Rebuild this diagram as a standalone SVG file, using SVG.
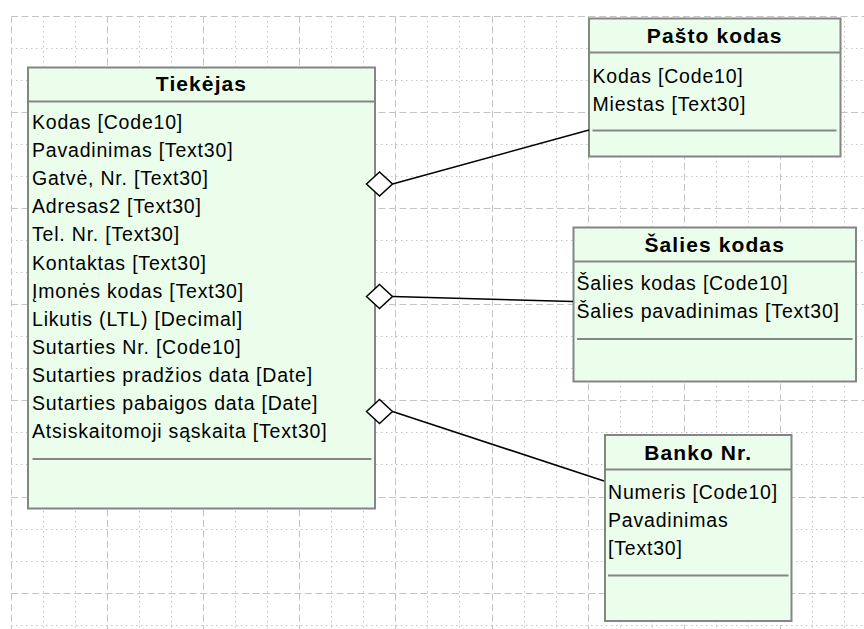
<svg xmlns="http://www.w3.org/2000/svg" width="864" height="629" viewBox="0 0 864 629">
<style>
.minor{stroke:#c4c4c4;stroke-width:1;fill:none;stroke-dasharray:1.5 3.5}
.major{stroke:#c4c4c4;stroke-width:1;fill:none;stroke-dasharray:7 3.5}
.box{fill:#ebfeeb;stroke:#858585;stroke-width:2}
.sep{stroke:#858585;stroke-width:2}
.hdr{font-family:"Liberation Sans",Arial,sans-serif;font-weight:bold;font-size:21px;letter-spacing:1.1px;text-anchor:middle;fill:#000}
.att{font-family:"Liberation Sans",Arial,sans-serif;font-size:19.5px;letter-spacing:0.8px;fill:#000}
.conn{stroke:#000;stroke-width:1.6;fill:none;marker-start:url(#dia)}
</style>
<defs>
<marker id="dia" markerUnits="userSpaceOnUse" markerWidth="30" markerHeight="28" refX="27" refY="14" orient="0" overflow="visible">
<polygon points="1,14 14,2 27,14 14,26" fill="#fff" stroke="#000" stroke-width="1.5"/>
</marker>
</defs>
<rect width="864" height="629" fill="#fff"/>
<g id="grid">
<path class="minor" d="M43.5,16V629M75.5,16V629M139.5,16V629M171.5,16V629M235.5,16V629M267.5,16V629M331.5,16V629M363.5,16V629M427.5,16V629M459.5,16V629M524.5,16V629M556.5,16V629M620.5,16V629M652.5,16V629M716.5,16V629M748.5,16V629M812.5,16V629M844.5,16V629M11,48.5H864M11,80.5H864M11,144.5H864M11,176.5H864M11,240.5H864M11,272.5H864M11,336.5H864M11,368.5H864M11,432.5H864M11,464.5H864M11,529.5H864M11,561.5H864M11,625.5H864"/>
<path class="major" d="M11.5,16V629M107.5,16V629M203.5,16V629M299.5,16V629M395.5,16V629M492.5,16V629M588.5,16V629M684.5,16V629M780.5,16V629M11,16.5H864M11,112.5H864M11,208.5H864M11,304.5H864M11,400.5H864M11,497.5H864M11,593.5H864"/>
</g>
<g id="tiekejas">
<rect class="box" x="28" y="67.5" width="347" height="441"/>
<line class="sep" x1="28" y1="101.5" x2="375" y2="101.5"/>
<text class="hdr" x="201.5" y="91">Tiekėjas</text>
<text class="att" x="32" y="129">Kodas [Code10]</text>
<text class="att" x="32" y="157.1">Pavadinimas [Text30]</text>
<text class="att" x="32" y="185.2">Gatvė, Nr. [Text30]</text>
<text class="att" x="32" y="213.3">Adresas2 [Text30]</text>
<text class="att" x="32" y="241.4">Tel. Nr. [Text30]</text>
<text class="att" x="32" y="269.5">Kontaktas [Text30]</text>
<text class="att" x="32" y="297.6">Įmonės kodas [Text30]</text>
<text class="att" x="32" y="325.7">Likutis (LTL) [Decimal]</text>
<text class="att" x="32" y="353.8">Sutarties Nr. [Code10]</text>
<text class="att" x="32" y="381.9">Sutarties pradžios data [Date]</text>
<text class="att" x="32" y="410">Sutarties pabaigos data [Date]</text>
<text class="att" x="32" y="438.1">Atsiskaitomoji sąskaita [Text30]</text>
<line class="sep" x1="32.5" y1="459" x2="371.5" y2="459"/>
</g>
<g id="pasto-kodas">
<rect class="box" x="589" y="18.5" width="251.5" height="138"/>
<line class="sep" x1="589" y1="52.5" x2="840.5" y2="52.5"/>
<text class="hdr" x="714.7" y="43">Pašto kodas</text>
<text class="att" x="592.5" y="82.5">Kodas [Code10]</text>
<text class="att" x="592.5" y="110.5">Miestas [Text30]</text>
<line class="sep" x1="592.5" y1="130.5" x2="836.5" y2="130.5"/>
</g>
<g id="salies-kodas">
<rect class="box" x="573.5" y="227.5" width="282.5" height="154"/>
<line class="sep" x1="573.5" y1="261.5" x2="856" y2="261.5"/>
<text class="hdr" x="714.7" y="252">Šalies kodas</text>
<text class="att" x="576.5" y="290">Šalies kodas [Code10]</text>
<text class="att" x="576.5" y="317.5">Šalies pavadinimas [Text30]</text>
<line class="sep" x1="577" y1="339" x2="852.5" y2="339"/>
</g>
<g id="banko-nr">
<rect class="box" x="605" y="435" width="186.5" height="186"/>
<line class="sep" x1="605" y1="469.5" x2="791.5" y2="469.5"/>
<text class="hdr" x="698.2" y="459.5">Banko Nr.</text>
<text class="att" x="608" y="498.5">Numeris [Code10]</text>
<text class="att" x="608" y="526.5">Pavadinimas</text>
<text class="att" x="608" y="554.5">[Text30]</text>
<line class="sep" x1="608" y1="575.5" x2="788.5" y2="575.5"/>
</g>
<g id="connectors">
<path class="conn" d="M392.5,184 L589,130"/>
<path class="conn" d="M392.5,296.5 L573,301.5"/>
<path class="conn" d="M392.5,411.5 L604,481"/>
</g>
</svg>
